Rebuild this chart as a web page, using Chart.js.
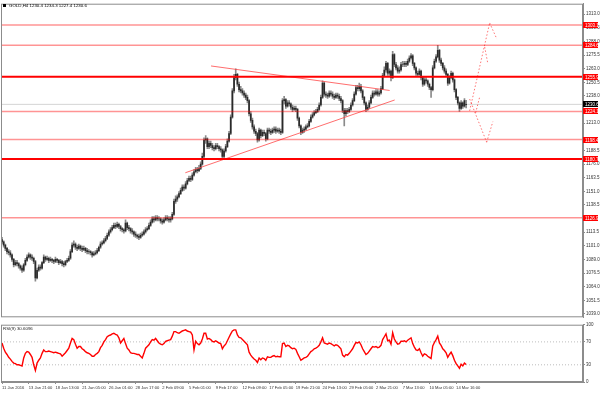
<!DOCTYPE html>
<html>
<head>
<meta charset="utf-8">
<script src="https://cdn.jsdelivr.net/npm/chart.js@4.4.0/dist/chart.umd.min.js"></script>
<style>
  html, body { margin: 0; padding: 0; background: #fff; }
  #wrap { position: relative; width: 600px; height: 393px; }
  canvas { position: absolute; left: 0; }
</style>
</head>
<body>
<div id="wrap">
  <canvas id="priceChart" width="600" height="321" style="top:0"></canvas>
  <canvas id="rsiChart" width="600" height="72" style="top:321px"></canvas>
</div>
<script>
// GOLD H4 candles, 11 Jan - 14 Mar 2016
const opens = [
  1107,1105,1102,1099,1096,1095,1093,1089,1084,1086, 1085,1083,1081,1079,1084,1088,1091,1093,1091,1090,
  1087,1072,1079,1082,1081,1086,1091,1089,1090,1088, 1089,1088,1087,1089,1088,1086,1087,1085,1084,1087,
  1088,1090,1096,1102,1103,1100,1099,1101,1099,1098, 1099,1097,1096,1096,1095,1093,1094,1095,1097,1100,
  1103,1104,1106,1108,1111,1114,1116,1118,1120,1119, 1121,1119,1117,1116,1115,1122,1118,1117,1115,1114,
  1112,1111,1110,1109,1111,1112,1114,1116,1117,1120, 1123,1126,1125,1127,1126,1126,1124,1123,1125,1127,
  1126,1125,1126,1130,1142,1144,1146,1149,1152,1155, 1154,1158,1161,1163,1162,1166,1169,1171,1170,1172,
  1176,1183,1198,1199,1192,1195,1193,1191,1190,1193, 1192,1190,1189,1183,1188,1192,1197,1204,1219,1243,
  1255,1258,1249,1244,1243,1241,1239,1237,1234,1222, 1216,1210,1206,1204,1198,1207,1202,1205,1204,1199,
  1207,1206,1205,1207,1208,1206,1207,1206,1205,1234, 1235,1229,1232,1231,1228,1226,1227,1226,1218,1211,
  1205,1207,1208,1210,1211,1215,1219,1221,1223,1224, 1226,1230,1237,1250,1240,1239,1238,1241,1240,1238,
  1237,1239,1238,1236,1234,1225,1222,1225,1224,1226, 1230,1234,1240,1246,1245,1247,1243,1237,1232,1226,
  1228,1232,1237,1241,1240,1242,1240,1241,1245,1257, 1262,1268,1259,1261,1255,1276,1267,1264,1261,1262,
  1267,1267,1268,1267,1270,1273,1275,1268,1264,1259, 1258,1261,1255,1249,1253,1252,1249,1246,1244,1264,
  1270,1274,1280,1271,1268,1264,1261,1258,1250,1255, 1259,1253,1244,1237,1232,1227,1232,1229,1230.4
];
const highs = [
  1109,1106,1103,1100,1098,1097,1094,1090,1088,1088, 1086,1084,1083,1085,1090,1093,1095,1094,1093,1091,
  1088,1081,1084,1084,1087,1093,1092,1092,1091,1091, 1090,1089,1091,1090,1089,1089,1088,1087,1088,1090,
  1092,1098,1104,1106,1104,1102,1103,1102,1101,1101, 1100,1099,1098,1097,1096,1096,1097,1099,1101,1105,
  1106,1108,1110,1113,1116,1118,1120,1122,1122,1123, 1122,1120,1118,1117,1125,1123,1120,1118,1117,1115,
  1114,1112,1112,1113,1114,1116,1118,1119,1122,1125, 1128,1128,1129,1129,1128,1127,1126,1127,1129,1129,
  1128,1128,1132,1144,1147,1148,1151,1154,1157,1157, 1160,1163,1165,1165,1168,1171,1173,1173,1175,1178,
  1186,1200,1202,1200,1197,1197,1195,1193,1195,1195, 1193,1192,1190,1190,1194,1199,1206,1221,1245,1258,
  1263,1259,1251,1247,1245,1243,1241,1239,1235,1224, 1218,1212,1208,1205,1209,1208,1207,1207,1205,1209,
  1209,1208,1209,1210,1210,1209,1209,1208,1236,1238, 1236,1234,1234,1232,1230,1229,1229,1227,1219,1212,
  1209,1210,1212,1213,1217,1221,1223,1225,1226,1228, 1232,1239,1252,1251,1242,1241,1243,1243,1242,1240,
  1241,1241,1240,1238,1235,1227,1227,1227,1228,1232, 1236,1242,1248,1248,1250,1249,1244,1238,1233,1230,
  1234,1239,1243,1243,1244,1244,1243,1247,1259,1265, 1270,1269,1263,1262,1279,1277,1269,1266,1265,1269,
  1270,1270,1270,1272,1275,1277,1276,1269,1265,1261, 1263,1262,1256,1255,1255,1253,1250,1247,1266,1272,
  1276,1284.6,1281,1273,1269,1266,1263,1259,1257,1261, 1260,1254,1245,1238,1233,1234,1233,1236,1234.3
];
const lows = [
  1103,1100,1097,1094,1093,1091,1087,1082,1083,1083, 1081,1079,1077,1078,1083,1087,1090,1089,1088,1085,
  1069,1071,1078,1079,1080,1085,1087,1088,1086,1087, 1086,1085,1086,1086,1084,1085,1083,1082,1083,1086,
  1087,1089,1095,1100,1098,1097,1098,1097,1096,1097, 1095,1094,1094,1093,1091,1092,1093,1094,1096,1099,
  1102,1103,1105,1107,1110,1113,1115,1117,1117,1118, 1117,1115,1114,1113,1114,1116,1115,1113,1112,1110,
  1109,1108,1107,1108,1110,1111,1113,1115,1116,1119, 1122,1123,1124,1124,1124,1122,1121,1122,1124,1124,
  1123,1123,1125,1129,1140,1142,1145,1148,1151,1152, 1153,1157,1160,1160,1161,1165,1168,1168,1169,1171,
  1175,1182,1195,1190,1190,1191,1189,1188,1189,1190, 1188,1187,1181,1182,1187,1191,1196,1203,1218,1241,
  1253,1247,1242,1241,1239,1237,1235,1232,1220,1214, 1208,1204,1202,1196,1197,1200,1201,1202,1197,1198,
  1204,1203,1204,1205,1204,1205,1204,1203,1204,1231, 1227,1228,1229,1226,1224,1225,1224,1216,1209,1203,
  1204,1205,1207,1209,1210,1214,1218,1220,1222,1223, 1225,1229,1236,1238,1237,1236,1237,1238,1236,1235,
  1236,1236,1234,1232,1223,1211,1220,1222,1223,1225, 1229,1233,1239,1243,1243,1241,1235,1230,1224,1225,
  1227,1231,1236,1238,1239,1238,1238,1240,1244,1256, 1260,1257,1257,1252,1254,1265,1262,1259,1259,1261,
  1265,1265,1265,1266,1269,1272,1266,1262,1257,1256, 1257,1253,1247,1248,1250,1247,1244,1237,1243,1263,
  1269,1273,1269,1266,1262,1259,1256,1248,1249,1254, 1251,1242,1235,1230,1224.1,1226,1227,1228,1227.4
];
const closes = [
  1105,1102,1099,1096,1095,1093,1089,1084,1086,1085, 1083,1081,1079,1084,1088,1091,1093,1091,1090,1087,
  1072,1079,1082,1081,1086,1091,1089,1090,1088,1089, 1088,1087,1089,1088,1086,1087,1085,1084,1087,1088,
  1090,1096,1102,1103,1100,1099,1101,1099,1098,1099, 1097,1096,1096,1095,1093,1094,1095,1097,1100,1103,
  1104,1106,1108,1111,1114,1116,1118,1120,1119,1121, 1119,1117,1116,1115,1122,1118,1117,1115,1114,1112,
  1111,1110,1109,1111,1112,1114,1116,1117,1120,1123, 1126,1125,1127,1126,1126,1124,1123,1125,1127,1126,
  1125,1126,1130,1142,1144,1146,1149,1152,1155,1154, 1158,1161,1163,1162,1166,1169,1171,1170,1172,1176,
  1183,1198,1199,1192,1195,1193,1191,1190,1193,1192, 1190,1189,1183,1188,1192,1197,1204,1219,1243,1255,
  1258,1249,1244,1243,1241,1239,1237,1234,1222,1216, 1210,1206,1204,1198,1207,1202,1205,1204,1199,1207,
  1206,1205,1207,1208,1206,1207,1206,1205,1234,1235, 1229,1232,1231,1228,1226,1227,1226,1218,1211,1205,
  1207,1208,1210,1211,1215,1219,1221,1223,1224,1226, 1230,1237,1250,1240,1239,1238,1241,1240,1238,1237,
  1239,1238,1236,1234,1225,1222,1225,1224,1226,1230, 1234,1240,1246,1245,1247,1243,1237,1232,1226,1228,
  1232,1237,1241,1240,1242,1240,1241,1245,1257,1262, 1268,1259,1261,1255,1276,1267,1264,1261,1262,1267,
  1267,1268,1267,1270,1273,1275,1268,1264,1259,1258, 1261,1255,1249,1253,1252,1249,1246,1244,1264,1270,
  1274,1280,1271,1268,1264,1261,1258,1250,1255,1259, 1253,1244,1237,1232,1227,1232,1229,1234,1230.6
];
const rsiValues = [
  68,59,52,48,43,40,36,33,32,30, 30,29,28,42,50,53,52,48,43,30, 20,
  33,38,42,50,56,53,53,54,53,52, 51,52,51,50,49,45,48,51,55,59,
  68,76,74,66,59,62,62,58,56,53, 51,50,48,45,45,48,50,53,60,64,
  70,74,79,81,82,84,85,83,82,77, 68,72,76,67,59,56,51,50,50,49,
  48,48,45,42,50,59,62,65,70,74, 73,76,72,68,66,65,67,71,72,73,
  74,80,88,88,86,85,87,89,90,91, 89,88,87,82,56,71,67,65,68,75,
  85,85,75,76,74,71,70,72,70,68, 67,58,63,66,72,78,84,89,91,91,
  82,78,77,74,71,68,65,52,47,43, 40,38,34,42,39,42,41,38,44,43,
  43,45,46,44,45,44,44,67,68,62, 64,63,60,58,59,57,50,44,38,40,
  42,43,45,49,53,55,58,59,61,64, 70,77,68,67,66,68,67,65,63,65,
  64,61,58,47,44,48,47,50,54,58, 64,69,68,70,65,58,53,48,50,54,
  58,62,61,62,60,61,64,74,79,84, 72,73,66,86,75,70,66,67,71,71,
  72,70,73,75,77,67,61,56,55,58, 51,45,49,48,45,43,41,63,69,74,
  80,68,64,58,55,51,43,48,52,46, 38,32,28,24,31,28,33,30.6
];

const titleText = 'GOLD,H4 1230.4 1234.3 1227.4 1230.6';
const rsiTitle = 'RSI(9) 30.6096';
const lastPrice = 1230.6;

// horizontal levels drawn on the chart
const levels = [1303.1, 1284.6, 1255.9, 1224.1, 1198.4, 1180.7, 1126.9];
const levelLabels = ['1303.1', '1284.6', '1255.9', '1224.1', '1198.4', '1180.7', '1126.9'];
const levelStrong = [false, false, true, false, false, true, false];

// trend lines (bar index, price)
const trendDown = [[125.2, 1265.7], [232.2, 1243.3]];
const trendUp = [[109.8, 1168.1], [235.2, 1234.6]];
// dotted scenario arrows: [x1, y1, x2, y2]
const scenarioSegments = [
  [280.1, 1224.7, 292.1, 1305.0],
  [292.1, 1305.0, 296.4, 1290.3],
  [289.1, 1283.1, 291.0, 1267.8],
  [280.1, 1235.5, 290.3, 1196.0],
  [290.3, 1196.0, 294.0, 1214.8],
  [283.7, 1222.9, 286.1, 1237.3]
];

// price axis ticks
const priceTicks = [1313.0, 1300.55, 1288.1, 1275.65, 1263.2, 1250.75, 1238.3, 1213.4, 1188.5, 1176.05,
  1163.6, 1151.15, 1138.7, 1113.8, 1101.35, 1088.9, 1076.45, 1064.0, 1051.55, 1039.1];
const priceTickLabels = ['1313.0', '1300.5', '1288.0', '1275.5', '1263.0', '1250.5', '1238.0', '1213.0', '1188.5', '1176.0',
  '1163.5', '1151.0', '1138.5', '1113.5', '1101.0', '1089.0', '1076.5', '1064.0', '1051.5', '1039.0'];
const rsiTicks = [100, 70, 30, 0];

// time axis
const dateTickBars = [0, 16, 32, 48, 64, 80, 96, 112, 128, 144, 160, 176, 192, 208, 224, 240, 256, 272];
const dateLabels = ['11 Jan 2016', '13 Jan 21:00', '18 Jan 13:00', '21 Jan 05:00', '26 Jan 01:00', '28 Jan 17:00',
  '2 Feb 09:00', '5 Feb 01:00', '9 Feb 17:00', '12 Feb 09:00', '17 Feb 05:00', '19 Feb 21:00',
  '24 Feb 13:00', '29 Feb 05:00', '2 Mar 21:00', '7 Mar 13:00', '10 Mar 05:00', '14 Mar 16:00'];

const X_MIN = -0.6, X_MAX = 348;
const FRAME = '#8c8c8c';
const FONT = "'Liberation Sans', Arial, sans-serif";
Chart.defaults.font.family = FONT;

function seg(x1, y1, x2, y2) {
  return [{x: x1, y: y1}, {x: x2, y: y2}];
}

const lineSets = [];
levels.forEach((v, k) => {
  lineSets.push({
    type: 'line', data: seg(X_MIN, v, X_MAX, v),
    borderColor: levelStrong[k] ? '#ff0000' : 'rgba(255,0,0,0.42)',
    borderWidth: levelStrong[k] ? 2 : 1.5, pointRadius: 0, order: 0
  });
});
lineSets.push({
  type: 'line', data: seg(X_MIN, lastPrice, X_MAX, lastPrice),
  borderColor: '#d4d4d4', borderWidth: 1, pointRadius: 0, order: 3
});
[trendDown, trendUp].forEach(t => {
  lineSets.push({
    type: 'line', data: seg(t[0][0], t[0][1], t[1][0], t[1][1]),
    borderColor: 'rgba(255,60,60,0.75)', borderWidth: 1, pointRadius: 0, order: 0
  });
});
scenarioSegments.forEach(s => {
  lineSets.push({
    type: 'line', data: seg(s[0], s[1], s[2], s[3]),
    borderColor: 'rgba(255,0,0,0.55)', borderWidth: 1, borderDash: [1.5, 2],
    pointRadius: 0, order: 0
  });
});

const mainDecor = {
  id: 'mainDecor',
  afterDraw(chart) {
    const {ctx, chartArea: a, scales: {y}} = chart;
    ctx.save();
    ctx.strokeStyle = FRAME;
    ctx.lineWidth = 1;
    ctx.strokeRect(a.left + 0.5, a.top + 0.5, a.right - a.left - 1, a.bottom - a.top - 1);
    ctx.font = '4.5px ' + FONT;
    ctx.textBaseline = 'middle';
    levels.forEach((v, k) => {
      const py = Math.round(y.getPixelForValue(v));
      ctx.fillStyle = '#ff0000';
      ctx.fillRect(a.right, py - 3, 15, 6);
      ctx.fillStyle = '#fff';
      ctx.fillText(levelLabels[k], a.right + 2, py + 0.5);
    });
    const cy = Math.round(y.getPixelForValue(lastPrice));
    ctx.fillStyle = '#000';
    ctx.fillRect(a.right, cy - 3, 15, 6);
    ctx.fillStyle = '#fff';
    ctx.fillText(lastPrice.toFixed(1), a.right + 2, cy + 0.5);
    // header
    ctx.fillStyle = '#000';
    ctx.fillRect(3, 4, 3, 3);
    ctx.font = '4.4px ' + FONT;
    ctx.fillText(titleText, 9, 6);
    ctx.restore();
  }
};

new Chart(document.getElementById('priceChart'), {
  type: 'bar',
  data: {
    datasets: [
      {
        label: 'range',
        data: closes.map((c, i) => ({x: i, y: [lows[i], highs[i]]})),
        backgroundColor: '#8a8a8a', barThickness: 1, grouped: false, order: 2
      },
      {
        label: 'body',
        data: closes.map((c, i) => ({x: i, y: [opens[i], c]})),
        backgroundColor: '#2a2a2a', barThickness: 1, grouped: false, order: 1
      },
      ...lineSets
    ]
  },
  options: {
    responsive: false,
    animation: false,
    events: [],
    layout: {padding: {left: 1, top: 1, bottom: 1, right: 0}},
    plugins: {legend: {display: false}, tooltip: {enabled: false}},
    scales: {
      x: {type: 'linear', min: X_MIN, max: X_MAX, offset: false, display: false},
      y: {
        position: 'right', min: 1036.0, max: 1322.6,
        afterBuildTicks: s => { s.ticks = priceTicks.map(v => ({value: v})); },
        afterFit: s => { s.width = 17; },
        ticks: {
          callback: (v, i) => priceTickLabels[i],
          font: {size: 4.5}, color: '#333', padding: 1
        },
        grid: {drawOnChartArea: false, drawTicks: true, tickLength: 2, color: FRAME},
        border: {display: true, color: FRAME}
      }
    }
  },
  plugins: [mainDecor]
});

const rsiDecor = {
  id: 'rsiDecor',
  afterDraw(chart) {
    const {ctx, chartArea: a} = chart;
    ctx.save();
    ctx.strokeStyle = FRAME;
    ctx.lineWidth = 1;
    ctx.strokeRect(a.left + 0.5, a.top + 0.5, a.right - a.left - 1, a.bottom - a.top - 1);
    ctx.fillStyle = '#222';
    ctx.font = '4.4px ' + FONT;
    ctx.textBaseline = 'middle';
    ctx.fillText(rsiTitle, 3, a.top + 4);
    ctx.restore();
  }
};

new Chart(document.getElementById('rsiChart'), {
  type: 'line',
  data: {
    datasets: [
      {
        data: rsiValues.map((v, i) => ({x: i, y: v})),
        borderColor: '#ff0000', borderWidth: 1.4, pointRadius: 0, tension: 0, order: 0
      },
      {
        data: seg(X_MIN, 70, X_MAX, 70),
        borderColor: '#bdbdbd', borderWidth: 1, borderDash: [1, 2], pointRadius: 0, order: 1
      },
      {
        data: seg(X_MIN, 30, X_MAX, 30),
        borderColor: '#bdbdbd', borderWidth: 1, borderDash: [1, 2], pointRadius: 0, order: 1
      }
    ]
  },
  options: {
    responsive: false,
    animation: false,
    events: [],
    layout: {padding: {left: 1, top: 1, bottom: 0, right: 0}},
    plugins: {legend: {display: false}, tooltip: {enabled: false}},
    scales: {
      x: {
        type: 'linear', min: X_MIN, max: X_MAX, offset: false,
        afterBuildTicks: s => { s.ticks = dateTickBars.map(v => ({value: v})); },
        afterFit: s => { s.height = 11; },
        ticks: {
          callback: (v, i) => dateLabels[i],
          autoSkip: false, maxRotation: 0, minRotation: 0, align: 'start',
          font: {size: 4.1}, color: '#333', padding: 1
        },
        grid: {drawOnChartArea: false, drawTicks: true, tickLength: 2, color: FRAME},
        border: {display: true, color: FRAME}
      },
      y: {
        position: 'right', min: 0, max: 100,
        afterBuildTicks: s => { s.ticks = rsiTicks.map(v => ({value: v})); },
        afterFit: s => { s.width = 17; },
        ticks: {font: {size: 4.5}, color: '#333', padding: 1},
        grid: {drawOnChartArea: false, drawTicks: true, tickLength: 2, color: FRAME},
        border: {display: true, color: FRAME}
      }
    }
  },
  plugins: [rsiDecor]
});
</script>
</body>
</html>
